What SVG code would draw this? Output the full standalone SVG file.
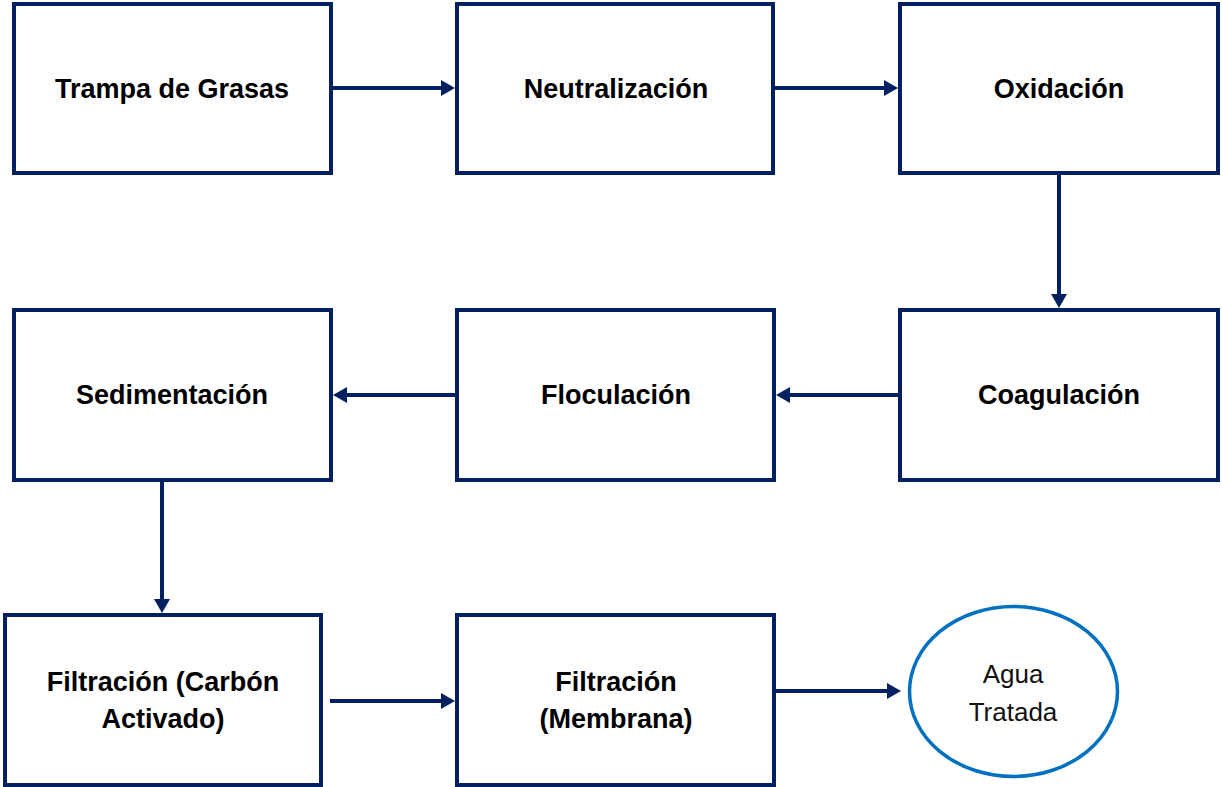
<svg xmlns="http://www.w3.org/2000/svg" width="1222" height="787" viewBox="0 0 1222 787">
  <style>
    .box { fill: #ffffff; stroke: #002060; stroke-width: 4; }
    .end { fill: #ffffff; stroke: #0070c0; stroke-width: 3.5; }
    .lbl { font-family: "Liberation Sans", Arial, sans-serif; font-size: 27px; font-weight: bold; fill: #000000; text-anchor: middle; }
    .lbl2 { font-family: "Liberation Sans", Arial, sans-serif; font-size: 26px; fill: #111111; text-anchor: middle; }
    .conn { fill: none; stroke: #002060; stroke-width: 4; marker-end: url(#arrow); }
  </style>
  <defs>
    <marker id="arrow" markerUnits="userSpaceOnUse" markerWidth="14" markerHeight="16" refX="2" refY="8" orient="auto">
      <path d="M0,0 L14,8 L0,16 z" fill="#002060"/>
    </marker>
  </defs>
  <rect width="1222" height="787" fill="#ffffff"/>

  <g id="connectors">
    <line class="conn" x1="333" y1="88" x2="443" y2="88"/>
    <line class="conn" x1="775" y1="88" x2="886" y2="88"/>
    <line class="conn" x1="1059" y1="175" x2="1059" y2="296"/>
    <line class="conn" x1="898" y1="395" x2="788" y2="395"/>
    <line class="conn" x1="455" y1="395" x2="345" y2="395"/>
    <line class="conn" x1="162" y1="482" x2="162" y2="601"/>
    <line class="conn" x1="330" y1="701" x2="443" y2="701"/>
    <line class="conn" x1="775" y1="691" x2="889" y2="691"/>
  </g>

  <g id="trampa">
    <rect class="box" x="14" y="4" width="317" height="169"/>
    <text class="lbl" x="172" y="98">Trampa de Grasas</text>
  </g>
  <g id="neutralizacion">
    <rect class="box" x="457" y="4" width="316" height="169"/>
    <text class="lbl" x="616" y="98">Neutralización</text>
  </g>
  <g id="oxidacion">
    <rect class="box" x="900" y="4" width="318" height="169"/>
    <text class="lbl" x="1059" y="98">Oxidación</text>
  </g>

  <g id="sedimentacion">
    <rect class="box" x="14" y="310" width="317" height="170"/>
    <text class="lbl" x="172" y="404">Sedimentación</text>
  </g>
  <g id="floculacion">
    <rect class="box" x="457" y="310" width="317" height="170"/>
    <text class="lbl" x="616" y="404">Floculación</text>
  </g>
  <g id="coagulacion">
    <rect class="box" x="900" y="310" width="318" height="170"/>
    <text class="lbl" x="1059" y="404">Coagulación</text>
  </g>

  <g id="filtracion-carbon">
    <rect class="box" x="5" y="615" width="316" height="170"/>
    <text class="lbl" x="163" y="691">Filtración (Carbón</text>
    <text class="lbl" x="163" y="728">Activado)</text>
  </g>
  <g id="filtracion-membrana">
    <rect class="box" x="457" y="615" width="317" height="170"/>
    <text class="lbl" x="616" y="691">Filtración</text>
    <text class="lbl" x="616" y="728">(Membrana)</text>
  </g>
  <g id="agua-tratada">
    <ellipse class="end" cx="1013.5" cy="691.5" rx="104" ry="85"/>
    <text class="lbl2" x="1013" y="683">Agua</text>
    <text class="lbl2" x="1013" y="721">Tratada</text>
  </g>
</svg>
